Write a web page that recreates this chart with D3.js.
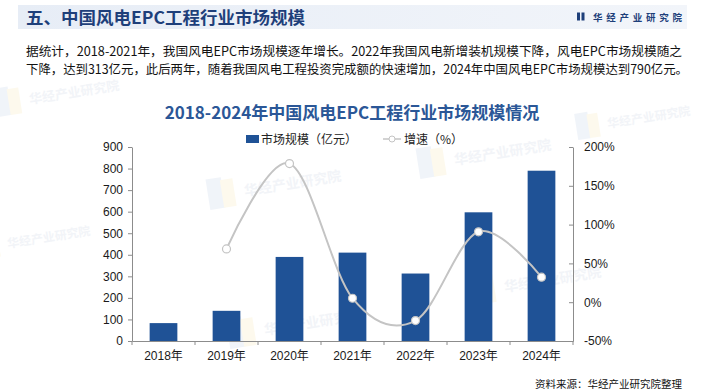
<!DOCTYPE html>
<html>
<head>
<meta charset="utf-8">
<script src="https://cdn.jsdelivr.net/npm/d3@7"></script>
<style>
  html, body { margin: 0; padding: 0; background: #fff; }
  svg { display: block; }
</style>
</head>
<body>
<div id="chart"></div>
<script>
// chart data
const years = ['2018年', '2019年', '2020年', '2021年', '2022年', '2023年', '2024年'];
const marketSize = [83, 140, 390, 410, 313, 597, 790];          // 亿元
const growth = [null, 68.7, 178.6, 5.1, -23.7, 90.7, 32.3];     // %
const leftTicks = [0, 100, 200, 300, 400, 500, 600, 700, 800, 900];
const rightTicks = [-50, 0, 50, 100, 150, 200];

const W = 705, H = 392;
const latin = '"Liberation Sans", Arial, "Noto Sans CJK SC", sans-serif';
const cjk = '"Noto Sans CJK SC", "Microsoft YaHei", sans-serif';
const navy = '#1e3f7a';
const barColor = '#1f5296';

const svg = d3.select('#chart').append('svg')
    .attr('width', W)
    .attr('height', H);

const defs = svg.append('defs');
const grad = defs.append('linearGradient').attr('id', 'band');
grad.append('stop').attr('offset', '0%').attr('stop-color', '#e7edf6');
grad.append('stop').attr('offset', '100%').attr('stop-color', '#f2f5fa');

// faint watermarks
function watermark(x, y, size) {
    const g = svg.append('g')
        .attr('transform', `translate(${x},${y}) rotate(-9)`)
        .attr('opacity', 0.45);
    g.append('rect').attr('x', -size * 2.6).attr('y', -size * 1.6)
        .attr('width', size * 1.1).attr('height', size * 2.2).attr('fill', '#dfe7f3');
    g.append('rect').attr('x', -size * 1.6).attr('y', -size * 1.4)
        .attr('width', size * 0.9).attr('height', size * 2).attr('fill', '#fbf3d8');
    g.append('text').attr('x', 0).attr('y', 0)
        .attr('font-family', cjk).attr('font-weight', 'bold')
        .attr('font-size', size).attr('fill', '#e3e8f0')
        .text('华经产业研究院');
}
watermark(30, 104, 13);
watermark(245, 196, 14);
watermark(455, 165, 14);
watermark(505, 292, 14);
watermark(265, 335, 14);
watermark(8, 248, 12);
watermark(608, 128, 12);

// header band
svg.append('rect')
    .attr('x', 18).attr('y', 5)
    .attr('width', 669).attr('height', 24)
    .attr('fill', 'url(#band)');

svg.append('text')
    .attr('x', 26).attr('y', 23.5)
    .attr('font-family', cjk).attr('font-weight', 'bold')
    .attr('font-size', 16.5).attr('fill', navy)
    .attr('textLength', 279).attr('lengthAdjust', 'spacingAndGlyphs')
    .text('五、中国风电EPC工程行业市场规模');

// logo
svg.append('rect').attr('x', 577).attr('y', 12.5).attr('width', 3).attr('height', 8).attr('fill', navy);
svg.append('rect').attr('x', 581.5).attr('y', 12.5).attr('width', 3).attr('height', 8).attr('fill', navy);
svg.append('text')
    .attr('x', 593).attr('y', 20.5)
    .attr('font-family', cjk).attr('font-weight', 'bold')
    .attr('font-size', 9.5).attr('fill', navy)
    .attr('textLength', 89).attr('lengthAdjust', 'spacing')
    .text('华经产业研究院');

// paragraph
const para = [
    '据统计，2018-2021年，我国风电EPC市场规模逐年增长。2022年我国风电新增装机规模下降，风电EPC市场规模随之',
    '下降，达到313亿元，此后两年，随着我国风电工程投资完成额的快速增加，2024年中国风电EPC市场规模达到790亿元。'
];
const paraLen = [656, 662];
para.forEach((t, i) => {
    svg.append('text')
        .attr('x', 26).attr('y', 56 + i * 18)
        .attr('font-family', cjk).attr('font-size', 12.5).attr('fill', '#111')
        .attr('textLength', paraLen[i]).attr('lengthAdjust', 'spacingAndGlyphs')
        .text(t);
});

// chart title
svg.append('text')
    .attr('x', 352).attr('y', 119)
    .attr('text-anchor', 'middle')
    .attr('font-family', cjk).attr('font-weight', 'bold')
    .attr('font-size', 17).attr('fill', '#2b5797')
    .text('2018-2024年中国风电EPC工程行业市场规模情况');

// scales
const plot = { left: 132, right: 573, top: 147, bottom: 341 };
const x = d3.scaleBand().domain(years).range([plot.left, plot.right]).paddingInner(0.56).paddingOuter(0.28);
const xStep = d3.scaleBand().domain(years).range([plot.left, plot.right]);
const yL = d3.scaleLinear().domain([0, 900]).range([plot.bottom, plot.top]);
const yR = d3.scaleLinear().domain([-50, 200]).range([plot.bottom, plot.top]);

const axisColor = '#8c8c8c';

// bars
svg.append('g').selectAll('rect')
    .data(marketSize)
    .enter()
    .append('rect')
    .attr('x', (d, i) => x(years[i]))
    .attr('y', d => yL(d))
    .attr('width', x.bandwidth())
    .attr('height', d => yL(0) - yL(d))
    .attr('fill', barColor);

// left axis
const gL = svg.append('g')
    .attr('transform', `translate(${plot.left},0)`)
    .call(d3.axisLeft(yL).tickValues(leftTicks).tickSize(4).tickPadding(5).tickSizeOuter(0));

// right axis
const gR = svg.append('g')
    .attr('transform', `translate(${plot.right},0)`)
    .call(d3.axisRight(yR).tickValues(rightTicks).tickSize(-4).tickPadding(11).tickSizeOuter(0)
        .tickFormat(d => d + '%'));

// bottom axis
const gB = svg.append('g')
    .attr('transform', `translate(0,${plot.bottom})`)
    .call(d3.axisBottom(xStep).tickSize(0).tickPadding(10).tickSizeOuter(0));

gB.selectAll('.boundary')
    .data(d3.range(years.length + 1))
    .enter()
    .append('line')
    .attr('class', 'boundary')
    .attr('x1', i => plot.left + i * xStep.step())
    .attr('x2', i => plot.left + i * xStep.step())
    .attr('y1', 0).attr('y2', 4)
    .attr('stroke', axisColor);

[gL, gR, gB].forEach(g => {
    g.selectAll('.domain').attr('stroke', axisColor);
    g.selectAll('.tick line').attr('stroke', axisColor);
    g.selectAll('text')
        .attr('font-family', latin)
        .attr('font-size', 12)
        .attr('fill', '#1a1a1a');
});

// growth line
const pts = growth.map((g, i) => ({ yr: years[i], g })).filter(d => d.g !== null);
const cx = d => xStep(d.yr) + xStep.bandwidth() / 2;

svg.append('path')
    .datum(pts)
    .attr('fill', 'none')
    .attr('stroke', '#c4c4c4')
    .attr('stroke-width', 2)
    .attr('d', d3.line().x(cx).y(d => yR(d.g)).curve(d3.curveCardinal.tension(0)));

svg.append('g').selectAll('circle')
    .data(pts)
    .enter()
    .append('circle')
    .attr('cx', cx)
    .attr('cy', d => yR(d.g))
    .attr('r', 4)
    .attr('fill', '#fff')
    .attr('stroke', '#c4c4c4')
    .attr('stroke-width', 1.2);

// legend
const lg = svg.append('g').attr('transform', 'translate(0,139)');
lg.append('rect').attr('x', 246).attr('y', -4).attr('width', 13).attr('height', 8).attr('fill', barColor);
lg.append('text').attr('x', 261).attr('y', 4.5)
    .attr('font-family', cjk).attr('font-size', 12).attr('fill', '#222')
    .text('市场规模（亿元）');
lg.append('line').attr('x1', 383).attr('x2', 401).attr('y1', 0).attr('y2', 0)
    .attr('stroke', '#c4c4c4').attr('stroke-width', 1.5);
lg.append('circle').attr('cx', 392).attr('cy', 0).attr('r', 3)
    .attr('fill', '#fff').attr('stroke', '#c4c4c4');
lg.append('text').attr('x', 404).attr('y', 4.5)
    .attr('font-family', cjk).attr('font-size', 12).attr('fill', '#222')
    .text('增速（%）');

// source
svg.append('text')
    .attr('x', 682).attr('y', 388)
    .attr('text-anchor', 'end')
    .attr('font-family', cjk).attr('font-size', 10.5).attr('fill', '#111')
    .text('资料来源：华经产业研究院整理');
</script>
</body>
</html>
